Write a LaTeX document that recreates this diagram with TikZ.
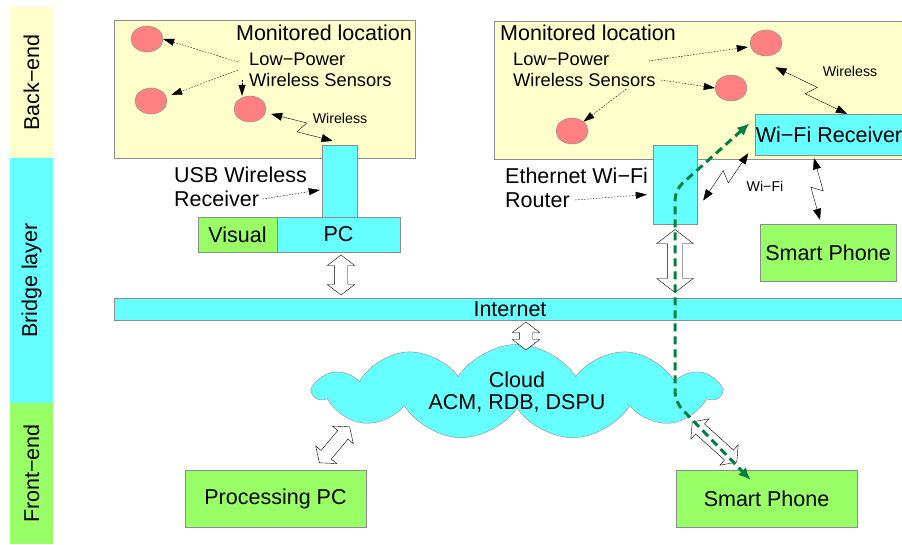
\documentclass[tikz,border=0pt]{standalone}
\usepackage{fontspec}
\setmainfont{Liberation Sans}
\usetikzlibrary{positioning,calc,shapes.geometric,shapes.symbols,shapes.arrows,arrows.meta}

\definecolor{lyellow}{RGB}{255,255,204}
\definecolor{lcyan}{RGB}{102,255,255}
\definecolor{lgreen}{RGB}{153,255,102}
\definecolor{sred}{RGB}{255,128,128}
\definecolor{rgreen}{RGB}{0,128,64}

\tikzset{
  big/.style={font=\fontsize{21.5}{24}\selectfont},
  mid/.style={font=\fontsize{18.3}{21}\selectfont},
  tiny/.style={font=\fontsize{14.2}{16}\selectfont},
  band/.style={inner sep=0pt, minimum width=43pt, big},
  box/.style={draw=black!45, inner sep=0pt, big},
  sensor/.style={ellipse, draw=black!45, fill=sred, minimum width=32pt, minimum height=26pt},
  pointer/.style={dash pattern=on 1.6pt off 1.4pt, -{Triangle[length=11pt,width=7pt]}},
  radio/.style={{Triangle[length=11pt,width=8pt]}-{Triangle[length=11pt,width=8pt]}},
  hollow/.style={double arrow, draw, fill=white, inner xsep=0pt, double arrow tip angle=105},
  route/.style={draw=rgreen, line width=3pt, dash pattern=on 8pt off 5pt, rounded corners=10pt,
    {Latex[length=12pt,width=11pt]}-{Latex[length=12pt,width=11pt]}}
}

% lightning style link between two points
\newcommand{\zigzag}[2]{%
  \draw[radio] #1 -- ($#1!0.54!#2!6pt!90:#2$) -- ($#1!0.46!#2!6pt!-90:#2$) -- #2;}

\begin{document}
\begin{tikzpicture}[x=1pt,y=-1pt]
\useasboundingbox (0,0) rectangle (902,544);

% layers
\node[band, fill=lyellow, minimum height=151pt] (back) at (31.5,82.5) {\rotatebox{90}{Back−end}};
\node[band, fill=lcyan, minimum height=245pt] (bridge) at (31.5,280.5) {\rotatebox{90}{Bridge layer}};
\node[band, fill=lgreen, minimum height=141pt] (front) at (31.5,473.5) {\rotatebox{90}{Front−end}};

% left monitored location
\node[box, fill=lyellow, minimum width=301pt, minimum height=138pt] (locA) at (264.5,89) {};
\node[big, anchor=east, inner sep=0pt] (locAtxt) at (412,33) {Monitored location};
\node[sensor] (sa1) at (147,39) {};
\node[sensor] (sa2) at (151,101) {};
\node[sensor] (sa3) at (250,109) {};
\node[mid, anchor=west, inner sep=0pt] (lpa1) at (249,59) {Low−Power};
\node[mid, anchor=west, inner sep=0pt] (lpa2) at (249,80) {Wireless Sensors};
\draw[pointer] ([shift={(-11,3)}]lpa1.west) -- (sa1.east);
\draw[pointer] ([shift={(-11,-10)}]lpa2.west) -- ([shift={(4,-6)}]sa2.east);
\draw[pointer] ([shift={(-7,0)}]lpa2.west) -- ([xshift=-8pt]sa3.north);

\node[box, fill=lcyan, minimum width=35pt, minimum height=72pt] (usb) at (339.5,181) {};
\node[box, fill=lcyan, minimum width=123pt, minimum height=35pt] (pc) at (338.5,234.5) {PC};
\node[box, fill=lgreen, minimum width=79pt, minimum height=35pt] (visual) at (237.5,234.5) {Visual};
\node[big, anchor=west, inner sep=0pt] (usb1) at (174,175) {USB Wireless};
\node[big, anchor=west, inner sep=0pt] (usb2) at (174,199) {Receiver};
\draw[pointer] ([xshift=3pt]usb2.east) -- ([shift={(-2,9)}]usb.west);
\zigzag{([shift={(5,5)}]sa3.east)}{([shift={(-7,-4)}]usb.north)}
\node[tiny] (wla) at (340,118) {Wireless};

% right monitored location
\node[box, fill=lyellow, minimum width=412pt, minimum height=138pt] (locB) at (700,90) {};
\node[big, anchor=west, inner sep=0pt] (locBtxt) at (500,33) {Monitored location};
\node[sensor] (sb1) at (766,43) {};
\node[sensor] (sb2) at (731,88) {};
\node[sensor] (sb3) at (572,131) {};
\node[mid, anchor=west, inner sep=0pt] (lpb1) at (513,59) {Low−Power};
\node[mid, anchor=west, inner sep=0pt] (lpb2) at (513,80) {Wireless Sensors};
\draw[pointer] ([shift={(39,2)}]lpb1.east) -- ([shift={(-2,4)}]sb1.west);
\draw[pointer] ([xshift=5pt]lpb2.east) -- (sb2.west);
\draw[pointer] ([shift={(42,2)}]lpb2.south) -- (sb3.north east);

\node[box, fill=lcyan, minimum width=147pt, minimum height=41pt] (wifi) at (829,134.5) {Wi−Fi Receiver};
\node[box, fill=lcyan, minimum width=44pt, minimum height=79pt] (router) at (675,184.5) {};
\node[box, fill=lgreen, minimum width=136pt, minimum height=57pt] (phoneA) at (828,252.5) {Smart Phone};
\node[big, anchor=west, inner sep=0pt] (eth1) at (505,176) {Ethernet Wi−Fi};
\node[big, anchor=west, inner sep=0pt] (eth2) at (505,200) {Router};
\draw[pointer] ([xshift=5pt]eth2.east) -- ([shift={(-6,10)}]router.west);
\zigzag{([shift={(-2,15)}]sb1.south east)}{([xshift=18pt]wifi.north)}
\node[tiny] (wlb) at (850,71) {Wireless};
\zigzag{([shift={(6,16)}]router.east)}{([shift={(-7,-2)}]wifi.south west)}
\node[tiny] (wlc) at (765,186) {Wi−Fi};
\zigzag{([shift={(-15,3)}]wifi.south)}{([shift={(-8,-4)}]phoneA.north)}

% internet and cloud
\node[box, fill=lcyan, minimum width=792pt, minimum height=22pt] (net) at (510,309) {Internet};
\node[cloud, cloud puffs=11, cloud puff arc=115, aspect=4.6, draw=black!45, fill=lcyan,
  minimum width=405pt, minimum height=86pt, inner sep=0pt, align=center, big] (cloud) at (517,392)
  {Cloud\\[-2pt]ACM, RDB, DSPU};

\node[box, fill=lgreen, minimum width=181pt, minimum height=57pt] (proc) at (275.5,498.5) {Processing PC};
\node[box, fill=lgreen, minimum width=181pt, minimum height=57pt] (phoneB) at (766.5,498.5) {Smart Phone};

% hollow links
\node[hollow, rotate=90, inner ysep=6.5pt, double arrow head extend=7pt, minimum height=40pt]
  at ($(pc.south -| 341,0)!0.5!(net.north -| 341,0)$) {};
\node[hollow, rotate=90, inner ysep=7.5pt, double arrow head extend=10.5pt, minimum height=63pt]
  at ($(router.south)!0.5!(net.north -| router.south)$) {};
\node[hollow, rotate=90, inner ysep=6.5pt, double arrow head extend=7pt, minimum height=28pt]
  at (526,336) {};
\node[hollow, rotate=50, inner ysep=6.5pt, double arrow head extend=7pt, minimum height=47pt]
  at ($(proc.north)+(59,-25)$) {};
\node[hollow, rotate=-42, inner ysep=6.5pt, double arrow head extend=7pt, minimum height=60pt]
  at (714.5,442) {};

% data route
\draw[route] ([shift={(-6,-11)}]wifi.west) -- (675,190) -- (675,402) -- ([shift={(-16,10)}]phoneB.north);
\end{tikzpicture}
\end{document}
